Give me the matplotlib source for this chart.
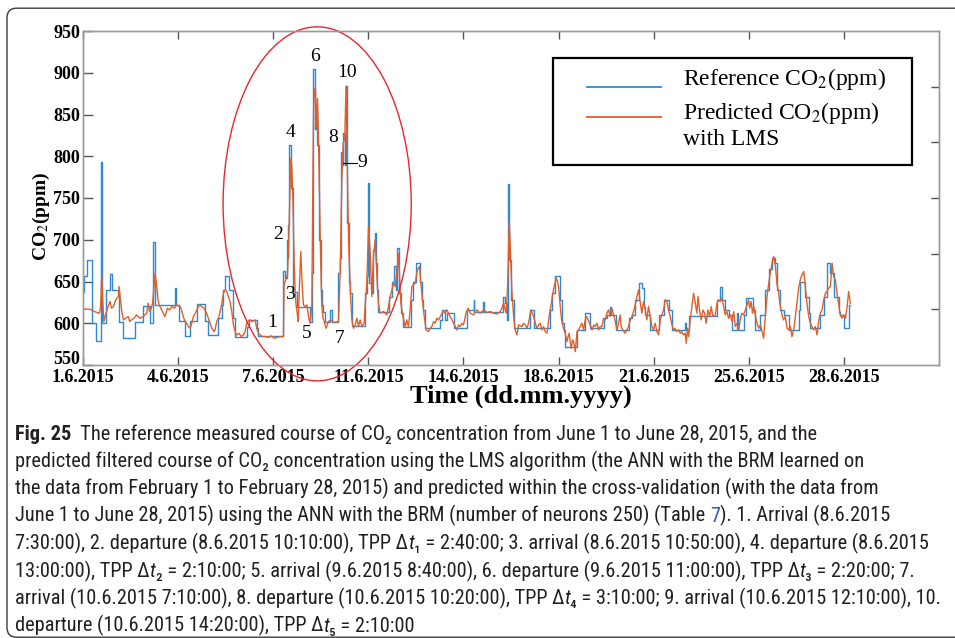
import matplotlib
matplotlib.use("Agg")
import matplotlib.pyplot as plt
from matplotlib import font_manager
from matplotlib.patches import Ellipse, FancyBboxPatch, Rectangle
from matplotlib.lines import Line2D
from matplotlib.offsetbox import TextArea, HPacker, AnchoredOffsetbox
from matplotlib.transforms import ScaledTranslation

# x = sample index (10 min samples), y = CO2 in ppm
REF_X = [0, 5, 19, 47, 68, 93, 99, 121, 142, 151, 189, 208, 274, 317, 352, 370, 379, 482, 489, 505,
         536, 563, 598, 642, 659, 712, 729, 738, 747, 770, 787, 800, 861, 875, 913, 922, 1054, 1062,
         1071, 1076, 1080, 1085, 1096, 1106, 1124, 1194, 1203, 1208, 1218, 1224, 1230, 1240, 1250,
         1255, 1264, 1273, 1299, 1308, 1343, 1350, 1356, 1362, 1368, 1376, 1380, 1386, 1390, 1396,
         1404, 1413, 1483, 1492, 1498, 1503, 1518, 1527, 1536, 1541, 1548, 1553, 1611, 1624, 1636,
         1643, 1653, 1660, 1671, 1682, 1723, 1737, 1751, 1772, 1781, 1790, 1799, 1878, 1886, 1904,
         1913, 1948, 2018, 2053, 2057, 2102, 2106, 2208, 2220, 2229, 2234, 2241, 2250, 2264, 2351,
         2369, 2453, 2465, 2483, 2505, 2518, 2527, 2535, 2597, 2640, 2663, 2740, 2754, 2772, 2776,
         2803, 2868, 2886, 2903, 2921, 2938, 2947, 2956, 2982, 3026, 3052, 3078, 3096, 3166, 3171,
         3184, 3333, 3347, 3359, 3376, 3394, 3411, 3440, 3445, 3473, 3487, 3522, 3534, 3561, 3587,
         3605, 3622, 3640, 3648, 3666, 3683, 3710, 3762, 3771, 3797, 3815, 3824, 3876, 3894, 3911,
         3929, 3946, 3973, 3981, 3999, 4025, 4034]
REF_Y = [638, 657, 676, 600, 579, 793, 600, 640, 659, 640, 602, 582, 601, 621, 600, 697, 622, 642, 622, 603,
         585, 603, 623, 603, 586, 606, 622, 640, 657, 640, 606, 584, 596, 604, 594, 585, 662, 654,
         700, 678, 718, 813, 762, 638, 620, 602, 660, 905, 833, 853, 813, 700, 640,
         622, 614, 602, 616, 602, 660, 678, 805, 790, 828, 790, 884, 800, 720, 650,
         636, 597, 636, 656, 768, 648, 636, 688, 708, 672, 640, 613, 632, 650, 668,
         640, 690, 636, 612, 596, 628, 650, 672, 650, 628, 616, 594, 604, 616, 604,
         612, 594, 616, 628, 614, 626, 614, 632, 624, 604, 767, 676, 628, 594, 616,
         594, 616, 636, 656, 628, 600, 592, 572, 592, 612, 594, 606, 610, 620, 610,
         592, 606, 610, 628, 648, 642, 620, 610, 592, 610, 628, 616, 592, 600, 592,
         609, 628, 644, 628, 616, 610, 592, 612, 592, 610, 630, 616, 592, 610, 640,
         665, 678, 672, 640, 616, 610, 592, 616, 650, 632, 612, 594, 610, 632, 672,
         660, 632, 614, 610, 594, 622, 622]

PRED_X = [0, 30, 47, 60, 86, 93, 98, 103, 110, 121, 132, 142, 150, 160, 172, 186, 189, 196, 203, 212,
          225, 238, 246, 254, 268, 282, 300, 317, 335, 343, 350, 356, 366, 372, 379, 388, 394, 400,
          414, 422, 431, 444, 456, 467, 480, 493, 510, 515, 527, 536, 545, 554, 563, 572, 580, 590,
          598, 612, 624, 636, 650, 665, 677, 688, 694, 703, 712, 721, 730, 738, 748, 756, 764, 773,
          782, 791, 800, 808, 820, 832, 843, 852, 861, 868, 875, 890, 905, 913, 922, 931, 945, 960,
          975, 990, 1005, 1020, 1035, 1054, 1057, 1063, 1068, 1075, 1082, 1092, 1097, 1103, 1110,
          1115, 1120, 1126, 1131, 1138, 1145, 1152, 1159, 1168, 1177, 1187, 1194, 1203, 1208, 1212,
          1217, 1222, 1226, 1233, 1238, 1243, 1249, 1255, 1262, 1268, 1278, 1290, 1300, 1320, 1343,
          1352, 1361, 1368, 1376, 1383, 1390, 1396, 1405, 1413, 1422, 1431, 1440, 1448, 1457, 1466,
          1478, 1483, 1492, 1501, 1510, 1518, 1527, 1536, 1545, 1553, 1562, 1580, 1597, 1606, 1615,
          1624, 1632, 1641, 1650, 1658, 1664, 1671, 1682, 1694, 1702, 1711, 1720, 1729, 1737, 1746,
          1758, 1769, 1776, 1786, 1794, 1804, 1816, 1825, 1834, 1843, 1851, 1860, 1870, 1878, 1887,
          1895, 1904, 1913, 1922, 1930, 1940, 1948, 1957, 1965, 1974, 1983, 1992, 2000, 2008, 2014,
          2025, 2036, 2053, 2071, 2088, 2106, 2123, 2141, 2158, 2176, 2193, 2202, 2211, 2225, 2232,
          2241, 2246, 2255, 2264, 2272, 2281, 2290, 2307, 2316, 2325, 2334, 2342, 2355, 2362, 2369,
          2378, 2386, 2395, 2404, 2412, 2421, 2430, 2439, 2446, 2453, 2462, 2470, 2479, 2488, 2494,
          2500, 2509, 2516, 2523, 2535, 2544, 2550, 2556, 2562, 2567, 2573, 2579, 2588, 2597, 2605,
          2614, 2623, 2632, 2640, 2649, 2656, 2663, 2670, 2676, 2685, 2693, 2702, 2711, 2719, 2728,
          2737, 2745, 2754, 2763, 2772, 2780, 2789, 2798, 2807, 2815, 2824, 2829, 2838, 2850, 2859,
          2868, 2877, 2886, 2894, 2903, 2912, 2921, 2929, 2938, 2947, 2956, 2964, 2973, 2982, 2991,
          2999, 3008, 3017, 3026, 3035, 3043, 3052, 3061, 3070, 3078, 3087, 3096, 3105, 3113, 3122,
          3131, 3140, 3148, 3157, 3166, 3171, 3178, 3184, 3192, 3201, 3210, 3219, 3227, 3233, 3241,
          3250, 3259, 3268, 3276, 3285, 3294, 3303, 3311, 3324, 3333, 3341, 3350, 3359, 3368, 3376,
          3385, 3394, 3403, 3412, 3421, 3429, 3438, 3447, 3456, 3464, 3473, 3482, 3491, 3499, 3505,
          3512, 3520, 3526, 3534, 3543, 3552, 3561, 3570, 3578, 3587, 3596, 3605, 3613, 3622, 3631,
          3640, 3648, 3657, 3666, 3675, 3683, 3692, 3701, 3710, 3719, 3727, 3736, 3745, 3754, 3762,
          3771, 3780, 3789, 3797, 3806, 3815, 3824, 3832, 3841, 3850, 3859, 3868, 3876, 3885, 3894,
          3903, 3911, 3920, 3929, 3938, 3946, 3955, 3964, 3973, 3981, 3990, 3999, 4008, 4017, 4025,
          4034]
PRED_Y = [617, 617, 616, 614, 612, 620, 656, 630, 602, 612, 620, 626, 618, 620, 628, 632, 644, 630, 616, 604,
          606, 608, 602, 604, 606, 610, 606, 608, 612, 624, 614, 616, 624, 640, 660, 644, 628, 622,
          616, 612, 608, 618, 616, 620, 618, 622, 620, 618, 608, 602, 600, 596, 594, 600, 608, 612,
          616, 622, 620, 618, 612, 602, 594, 590, 592, 602, 606, 614, 624, 636, 640, 638, 632, 626,
          614, 598, 590, 586, 588, 584, 586, 590, 600, 602, 604, 602, 604, 594, 588, 586, 584, 584,
          583, 585, 582, 583, 584, 584, 646, 650, 654, 658, 702, 797, 790, 754, 674,
          640, 622, 612, 602, 646, 686, 646, 622, 620, 622, 606, 600, 622, 760, 853,
          880, 881, 834, 869, 820, 754, 680, 622, 606, 602, 594, 602, 604, 601, 602,
          662, 774, 815, 822, 884, 780, 700, 640, 605, 594, 598, 606, 596, 604, 596,
          600, 620, 648, 716, 684, 632, 680, 700, 656, 624, 612, 614, 610, 620, 632,
          640, 648, 644, 660, 684, 656, 624, 608, 596, 604, 596, 616, 644, 646, 648,
          664, 668, 648, 624, 608, 592, 590, 594, 596, 602, 600, 606, 604, 608, 612,
          614, 612, 616, 612, 608, 604, 600, 596, 592, 598, 596, 600, 598, 606, 613,
          618, 612, 610, 616, 612, 616, 613, 614, 612, 611, 614, 618, 624, 612, 644,
          722, 692, 636, 608, 592, 586, 598, 596, 600, 598, 594, 600, 616, 612, 608,
          600, 594, 598, 600, 592, 596, 590, 588, 600, 612, 624, 636, 646, 654, 650,
          644, 620, 604, 596, 588, 578, 584, 588, 576, 570, 580, 578, 566, 590, 592,
          596, 600, 592, 604, 608, 604, 600, 596, 592, 598, 596, 600, 592, 596, 596,
          606, 604, 612, 616, 608, 618, 610, 602, 592, 600, 610, 596, 592, 588, 592,
          596, 604, 608, 614, 622, 632, 640, 626, 612, 626, 616, 604, 620, 608, 596,
          592, 600, 590, 586, 604, 610, 616, 628, 626, 616, 608, 598, 592, 594, 590,
          592, 588, 590, 586, 588, 576, 594, 584, 604, 620, 636, 624, 612, 632, 616,
          604, 616, 612, 600, 616, 608, 620, 608, 610, 624, 628, 626, 630, 620, 610,
          614, 606, 610, 602, 614, 596, 600, 592, 606, 612, 610, 616, 622, 628, 618,
          626, 612, 620, 610, 600, 594, 598, 590, 582, 608, 632, 648, 660, 672, 680,
          668, 648, 636, 620, 610, 604, 608, 594, 592, 596, 584, 592, 608, 626, 642,
          652, 658, 662, 644, 624, 608, 600, 596, 592, 596, 586, 604, 612, 616, 628,
          636, 638, 642, 644, 672, 656, 652, 636, 622, 610, 606, 610, 606, 620, 638,
          624]

X_TICKS = [0, 500, 1000, 1500, 2000, 2500, 3000, 3500, 4000]
X_LABELS = ["1.6.2015", "4.6.2015", "7.6.2015", "11.6.2015", "14.6.2015",
            "18.6.2015", "21.6.2015", "25.6.2015", "28.6.2015"]
Y_TICKS = [550, 600, 650, 700, 750, 800, 850, 900, 950]

EVENT_LABELS = ["1", "2", "3", "4", "5", "6", "7", "8", "9", "10"]
EVENT_X = [994, 1026, 1089, 1089, 1178, 1220, 1347, 1315, 1468, 1389]
EVENT_Y = [601, 706, 634, 828, 588, 920, 582, 822, 792, 900]

# caption pieces: (text, kind) with kind n = normal, b = bold, i = italic, l = link
CAPTION = [
    [("Fig. 25", "b"),
     ("  The reference measured course of CO\u2082 concentration from June 1 to June 28, 2015, and the", "n")],
    [("predicted filtered course of CO\u2082 concentration using the LMS algorithm (the ANN with the BRM learned on", "n")],
    [("the data from February 1 to February 28, 2015) and predicted within the cross-validation (with the data from", "n")],
    [("June 1 to June 28, 2015) using the ANN with the BRM (number of neurons 250) (Table ", "n"),
     ("7", "l"), ("). 1. Arrival (8.6.2015", "n")],
    [("7:30:00), 2. departure (8.6.2015 10:10:00), TPP \u0394", "n"), ("t", "i"),
     ("\u2081 = 2:40:00; 3. arrival (8.6.2015 10:50:00), 4. departure (8.6.2015", "n")],
    [("13:00:00), TPP \u0394", "n"), ("t", "i"),
     ("\u2082 = 2:10:00; 5. arrival (9.6.2015 8:40:00), 6. departure (9.6.2015 11:00:00), TPP \u0394", "n"),
     ("t", "i"), ("\u2083 = 2:20:00; 7.", "n")],
    [("arrival (10.6.2015 7:10:00), 8. departure (10.6.2015 10:20:00), TPP \u0394", "n"), ("t", "i"),
     ("\u2084 = 3:10:00; 9. arrival (10.6.2015 12:10:00), 10.", "n")],
    [("departure (10.6.2015 14:20:00), TPP \u0394", "n"), ("t", "i"), ("\u2085 = 2:10:00", "n")],
]

BLUE = "#2f88d2"
ORANGE = "#e0602a"
TEXT_COLOR = "#231f20"
LINK_COLOR = "#2a5db0"
SERIF = "Liberation Serif"


def pick_caption_font():
    entries = font_manager.fontManager.ttflist
    names = {f.name for f in entries}
    for name in ["Liberation Sans Narrow", "Roboto Condensed", "Noto Sans Condensed",
                 "Open Sans Condensed", "Arial Narrow"]:
        if name in names:
            return name, "normal"
    for f in entries:
        if f.name == "Noto Sans" and "condensed" in str(f.stretch) and "extra" not in str(f.stretch):
            return "Noto Sans", f.stretch
    return "Roboto", "normal"


cap_font, cap_stretch = pick_caption_font()
plt.rcParams["mathtext.fontset"] = "stix"

fig = plt.figure(figsize=(9.55, 6.38), dpi=100)

# outer frame of the figure panel
fig.patches.append(FancyBboxPatch(
    (7 / 955, 0.8 / 638), 1.2, 629 / 638, boxstyle="round,pad=0,rounding_size=0.01",
    mutation_aspect=955 / 638, transform=fig.transFigure, fill=False,
    edgecolor="#3a3a3a", linewidth=1.0))

ax = fig.add_axes([83 / 955, 1 - 365 / 638, 856 / 955, 334 / 638])
ax.plot(REF_X, REF_Y, drawstyle="steps-post", color=BLUE, linewidth=1.0)
ax.plot(PRED_X, PRED_Y, color=ORANGE, linewidth=1.0)

ax.set_xlim(0, 4500)
ax.set_ylim(550, 950)
ax.set_xticks(X_TICKS)
ax.set_xticklabels(X_LABELS)
ax.set_yticks(Y_TICKS)
for lab in ax.get_xticklabels() + ax.get_yticklabels():
    lab.set_fontfamily(SERIF)
    lab.set_fontweight("bold")
    lab.set_fontsize(13)
ax.tick_params(axis="x", direction="in", top=True, length=6, width=1, color="#555555", pad=3)
ax.tick_params(axis="y", direction="in", length=7, width=1, color="#555555", pad=2)
# the lowest y label sits a little above its tick in the original
ax.get_yticklabels()[0].set_transform(
    ax.get_yticklabels()[0].get_transform() + ScaledTranslation(0, 7 / 100, fig.dpi_scale_trans))
for sp in ax.spines.values():
    sp.set_color("#9a9a9a")
    sp.set_linewidth(1.0)

# right axis carries its own unlabeled ticks
ax2 = ax.twinx()
ax2.set_ylim(0, 6)
ax2.set_yticks([1, 2, 3, 4, 5])
ax2.set_yticklabels([])
ax2.tick_params(axis="y", direction="in", length=6, width=1, color="#555555")
for sp in ax2.spines.values():
    sp.set_color("#9a9a9a")
    sp.set_linewidth(1.0)

ax.set_xlabel("Time (dd.mm.yyyy)", fontfamily=SERIF, fontweight="bold", fontsize=19)
ax.xaxis.set_label_coords(0.512, -0.058)
ax.set_ylabel("CO$_2$(ppm)", fontfamily=SERIF, fontweight="bold", fontsize=14)
ax.yaxis.set_label_coords(-0.036, 0.446)

# highlighted region and event numbers
ax.add_patch(Ellipse((1231, 743), 989, 424, fill=False, edgecolor="#e8262d",
                     linewidth=1.0, clip_on=False, zorder=4))
for lab, x, y in zip(EVENT_LABELS, EVENT_X, EVENT_Y):
    ax.text(x, y, lab, fontfamily=SERIF, fontsize=14, ha="center", va="center", zorder=5)
ax.plot([1368, 1441], [792, 792], color="black", linewidth=0.8, zorder=5)

# legend box
ax.add_patch(Rectangle((0.549, 0.599), 0.4195, 0.32, transform=ax.transAxes,
                       facecolor="white", edgecolor="black", linewidth=1.6, zorder=6))
ax.add_line(Line2D([0.589, 0.675], [0.832, 0.832], transform=ax.transAxes,
                   color=BLUE, linewidth=1.3, zorder=7))
ax.add_line(Line2D([0.589, 0.675], [0.743, 0.743], transform=ax.transAxes,
                   color=ORANGE, linewidth=1.3, zorder=7))
leg_kw = dict(transform=ax.transAxes, fontfamily=SERIF, fontsize=17, va="center", zorder=7)
ax.text(0.701, 0.856, "Reference CO$_2$(ppm)", **leg_kw)
ax.text(0.701, 0.754, "Predicted CO$_2$(ppm)", **leg_kw)
ax.text(0.701, 0.674, "with LMS", **leg_kw)


# caption
def piece_props(kind, size):
    props = dict(family=[cap_font, "DejaVu Sans"], stretch=cap_stretch, fontsize=size, color=TEXT_COLOR)
    if kind == "b":
        props["fontweight"] = "bold"
    elif kind == "i":
        props["fontstyle"] = "italic"
    elif kind == "l":
        props["color"] = LINK_COLOR
    return props


renderer = fig.canvas.get_renderer()
widest = 0
for parts in CAPTION:
    w = 0
    for t, kind in parts:
        probe = fig.text(0, 0, t, **piece_props(kind, 14))
        w += probe.get_window_extent(renderer).width
        probe.remove()
    widest = max(widest, w)
cap_size = 14 * 938 / widest

for i, parts in enumerate(CAPTION):
    areas = [TextArea(t, textprops=piece_props(kind, cap_size)) for t, kind in parts]
    row = HPacker(children=areas, align="baseline", pad=0, sep=0)
    bottom = 444 + 27.5 * i
    fig.add_artist(AnchoredOffsetbox(loc="lower left", child=row, pad=0, borderpad=0,
                                     frameon=False, bbox_to_anchor=(15 / 955, 1 - bottom / 638),
                                     bbox_transform=fig.transFigure))

fig.savefig("out.png", dpi=100)
